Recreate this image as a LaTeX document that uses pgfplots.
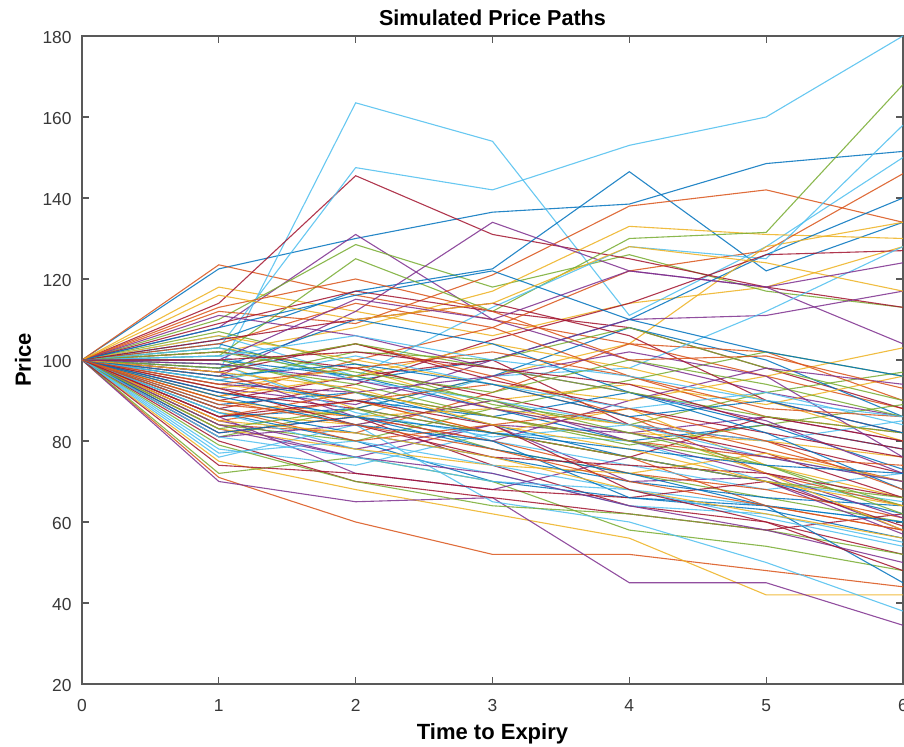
\documentclass[border=0pt]{standalone}
\usepackage{pgfplots}
\pgfplotsset{compat=1.18}
\usepackage{fontspec}
\setmainfont{Liberation Sans}
\definecolor{mA}{rgb}{0,0.447,0.741}
\definecolor{mB}{rgb}{0.850,0.325,0.098}
\definecolor{mC}{rgb}{0.929,0.694,0.125}
\definecolor{mD}{rgb}{0.494,0.184,0.556}
\definecolor{mE}{rgb}{0.466,0.674,0.188}
\definecolor{mF}{rgb}{0.301,0.745,0.933}
\definecolor{mG}{rgb}{0.635,0.078,0.184}
\pgfplotscreateplotcyclelist{matlab}{{color=mA},{color=mB},{color=mC},{color=mD},{color=mE},{color=mF},{color=mG}}
\newcommand{\pth}[6]{\addplot coordinates {(0,100) (1,#1) (2,#2) (3,#3) (4,#4) (5,#5) (6,#6)};}
\begin{document}
\begin{tikzpicture}
\begin{axis}[
  scale only axis, width=410.5pt, height=324pt,
  xmin=0, xmax=6, ymin=20, ymax=180,
  xtick={0,1,2,3,4,5,6}, ytick={20,40,60,80,100,120,140,160,180},
  tick align=inside, major tick length=3.5pt,
  axis line style={draw=black!65, line width=0.6pt},
  every tick/.style={draw=black!65, line width=0.6pt},
  /pgf/number format/assume math mode=true,
  tick label style={font=\fontsize{8.7}{10}\selectfont, text=black!78},
  xticklabel style={anchor=base, yshift=-14pt},
  yticklabel style={anchor=east, inner sep=0pt, xshift=-5pt, yshift=-0.8pt},
  title={\bfseries Simulated Price Paths},
  title style={at={(axis description cs:0.5,1)}, anchor=base, yshift=-1pt, inner sep=0pt, font=\fontsize{10.8}{12}\selectfont},
  xlabel={\bfseries Time to Expiry},
  xlabel style={at={(axis description cs:0.5,0)}, anchor=base, yshift=-28pt, inner sep=0pt, font=\fontsize{11}{12}\selectfont},
  ylabel={\bfseries Price},
  ylabel style={at={([xshift=-25.5pt]axis description cs:0,0.5)}, rotate=0, anchor=base, inner sep=0pt, font=\fontsize{11}{12}\selectfont},
  cycle list name=matlab,
  every axis plot/.append style={line width=0.55pt, no markers, draw opacity=0.85},
]
\pth{122.5}{130}{136.5}{138.5}{148.5}{151.5}
\pth{123.5}{116}{110}{104}{96}{88}
\pth{118}{112}{106}{114}{118}{128}
\pth{108}{131}{110}{100}{92}{86}
\pth{110}{128.5}{118}{126}{117}{113}
\pth{97}{163.5}{154}{111}{128}{150}
\pth{114}{145.5}{131}{125}{118}{113}
\pth{105}{117}{122.5}{146.5}{122}{134}
\pth{112}{109}{121}{138}{142}{134}
\pth{102}{108}{117}{133}{131}{130}
\pth{96}{112}{134}{122}{118}{104}
\pth{101}{125}{112}{130}{131.5}{168}
\pth{103}{147.5}{142}{153}{160}{180}
\pth{109}{117}{112}{108}{98}{88}
\pth{104}{95}{100}{110}{126}{140}
\pth{91}{100}{108}{122}{127}{146}
\pth{99}{88}{96}{104}{128}{134}
\pth{93}{89}{100}{110}{111}{117}
\pth{107}{99}{89}{84}{92}{97}
\pth{106}{96}{113}{128}{125}{158}
\pth{88}{94}{105}{114}{126}{127}
\pth{86}{88}{96}{108}{100}{86}
\pth{84}{82}{92}{104}{102}{90}
\pth{87}{84}{90}{94}{89}{96}
\pth{85}{78}{84}{82}{86}{80}
\pth{95}{102}{100}{108}{98}{90}
\pth{92}{86}{96}{98}{112}{128}
\pth{90}{96}{100}{84}{80}{72}
\pth{100}{96}{88}{80}{84}{73}
\pth{98}{104}{96}{86}{78}{70}
\pth{94}{90}{82}{88}{74}{66}
\pth{83}{76}{84}{70}{71}{58}
\pth{81}{88}{78}{72}{66}{60}
\pth{78}{74}{82}{80}{70}{65}
\pth{82}{86}{74}{64}{60}{52}
\pth{87}{80}{70}{66}{63}{56}
\pth{71}{60}{52}{52}{48}{44}
\pth{75}{68}{62}{56}{42}{42}
\pth{70}{65}{66}{45}{45}{34.5}
\pth{72}{76}{70}{58}{54}{48}
\pth{76}{84}{65}{60}{50}{38}
\pth{80}{70}{66}{62}{58}{62}
\pth{89}{92}{84}{76}{70}{62}
\pth{96}{90}{82}{76}{64}{58}
\pth{93}{98}{88}{82}{80}{76}
\pth{97}{86}{80}{90}{98}{94}
\pth{99}{94}{86}{79}{84}{89}
\pth{101}{92}{80}{74}{68}{72}
\pth{102}{98}{91}{84}{77}{66}
\pth{88}{82}{76}{70}{66}{64}
\pth{85}{90}{94}{86}{72}{64}
\pth{91}{96}{104}{98}{90}{80}
\pth{86}{72}{68}{76}{70}{57}
\pth{84}{80}{88}{95}{102}{96}
\pth{87}{78}{72}{64}{62}{55}
\pth{92}{88}{82}{76}{86}{80}
\pth{98}{110}{104}{92}{84}{78}
\pth{104}{114}{108}{96}{86}{82}
\pth{106}{100}{94}{90}{96}{103}
\pth{111}{106}{98}{92}{85}{72}
\pth{103}{97}{92}{100}{94}{86}
\pth{99}{87}{81}{84}{76}{70}
\pth{97}{104}{95}{88}{82}{76}
\pth{95}{90}{86}{92}{82}{68}
\pth{89}{86}{80}{72}{68}{61}
\pth{83}{78}{74}{72}{77}{70}
\pth{81}{84}{90}{80}{72}{61}
\pth{79}{70}{64}{62}{58}{52}
\pth{77}{80}{74}{68}{64}{60}
\pth{74}{72}{68}{66}{70}{59}
\pth{82}{86}{78}{72}{64}{45}
\pth{86}{92}{86}{80}{76}{74}
\pth{90}{86}{88}{84}{72}{58}
\pth{94}{92}{96}{102}{96}{76}
\pth{100}{92}{86}{80}{74}{64}
\pth{103}{95}{90}{84}{80}{85}
\pth{105}{110}{114}{106}{90}{82}
\pth{108}{116}{122}{110}{102}{96}
\pth{113}{120}{112}{100}{101}{93}
\pth{116}{110}{114}{128}{124}{117}
\pth{100}{115}{110}{122}{118}{124}
\pth{98}{104}{98}{92}{86}{82}
\pth{95}{101}{94}{88}{92}{84}
\pth{93}{84}{76}{74}{72}{66}
\pth{91}{84}{80}{66}{64}{60}
\pth{88}{80}{84}{88}{80}{68}
\pth{85}{82}{76}{68}{62}{56}
\pth{84}{76}{72}{64}{58}{50}
\pth{83}{88}{82}{76}{70}{66}
\pth{81}{76}{70}{68}{61}{54}
\pth{86}{90}{84}{68}{60}{48}
\pth{96}{99}{94}{86}{90}{82}
\pth{94}{98}{102}{96}{88}{86}
\pth{97}{93}{84}{78}{70}{64}
\pth{99}{95}{88}{82}{76}{70}
\pth{102}{96}{90}{82}{74}{62}
\pth{101}{106}{100}{96}{90}{86}
\pth{100}{102}{98}{94}{84}{78}
\pth{92}{86}{82}{78}{74}{72}
\pth{90}{84}{78}{70}{64}{58}
\coordinate (bl) at (axis description cs:0,0);
\coordinate (tr) at (axis description cs:1,1);
\end{axis}
\pgfresetboundingbox
\path[use as bounding box] ([xshift=-41pt,yshift=-31.5pt]bl) rectangle ([xshift=0.5pt,yshift=18pt]tr);
\end{tikzpicture}
\end{document}
